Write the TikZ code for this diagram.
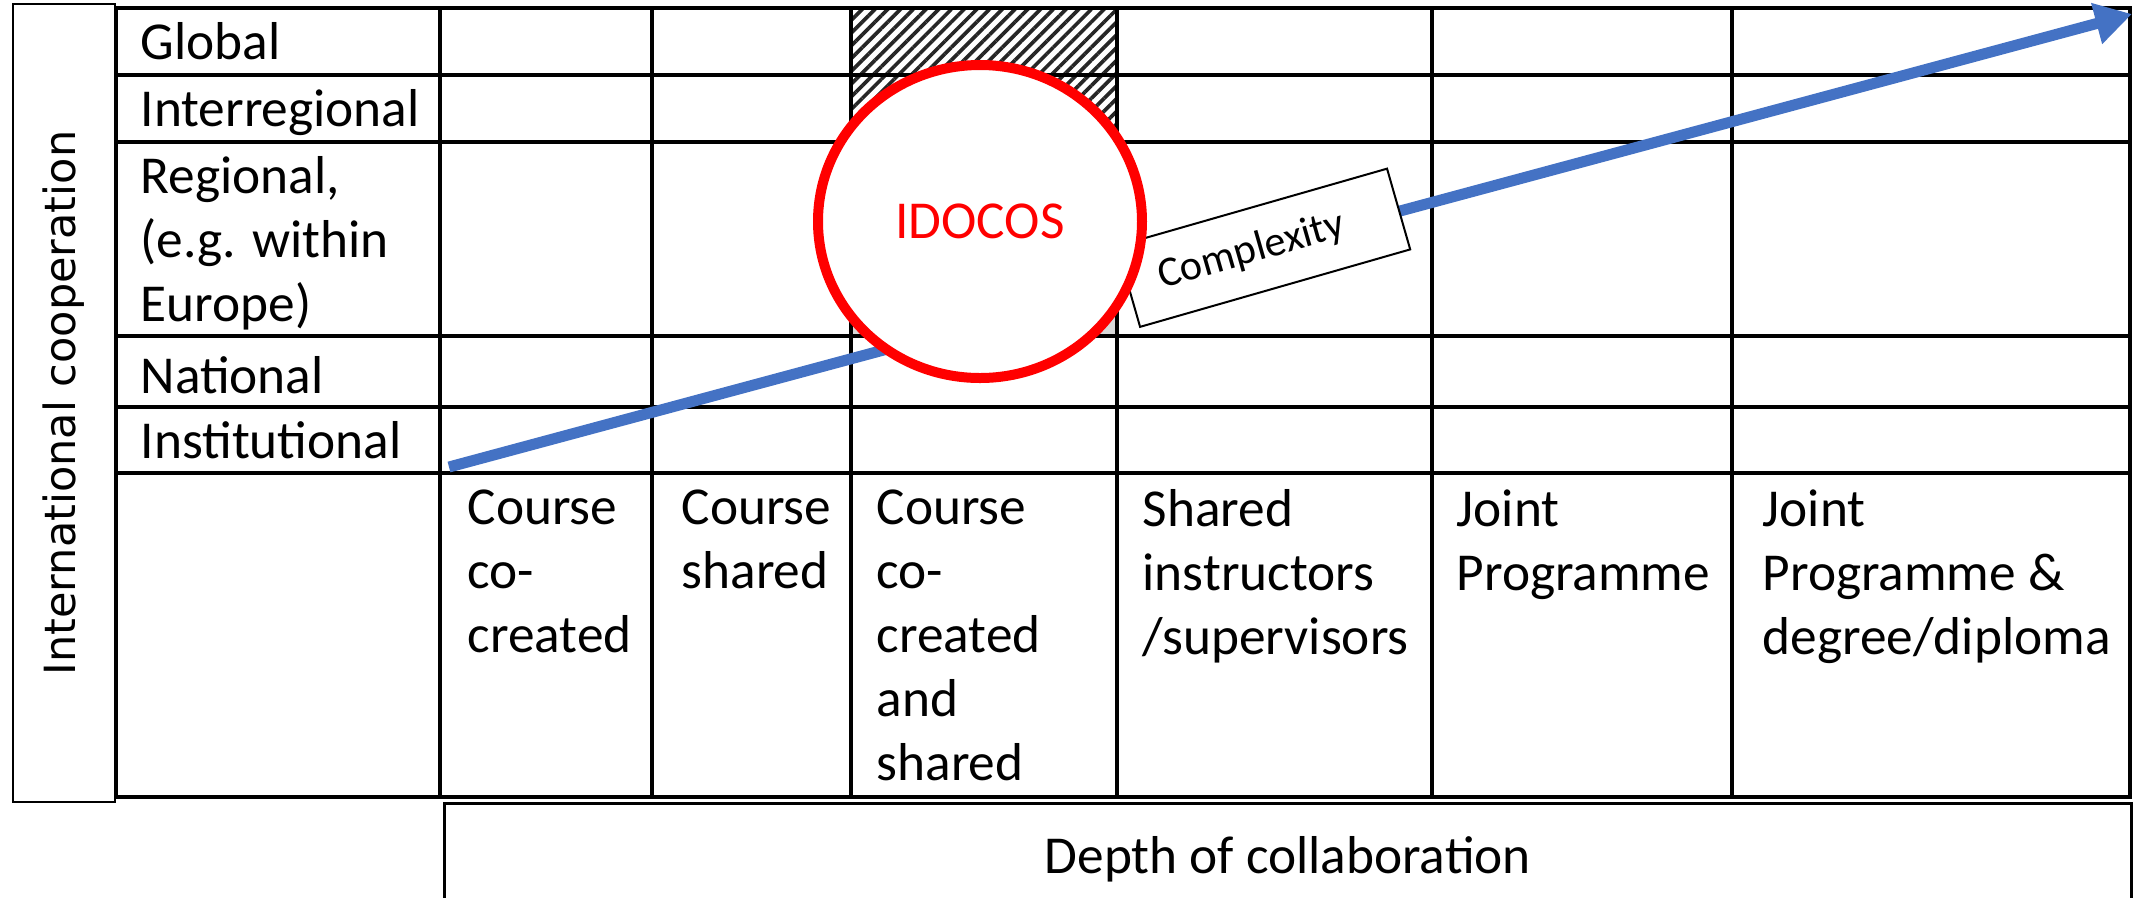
\documentclass[tikz,border=0pt]{standalone}
\usepackage{fontspec}
\setmainfont{Carlito}
\newfontfamily\sidefont{DejaVu Sans}
\usepackage{xcolor}
\usetikzlibrary{arrows.meta,patterns.meta,shapes.geometric}

\definecolor{arrowblue}{RGB}{68,114,196}
\definecolor{cellgrey}{RGB}{217,217,217}

\begin{document}
\begin{tikzpicture}[
    x=0.3pt, y=-0.3pt, >={Triangle[length=11pt,width=12pt]},
    every node/.style={font=\fontsize{16}{19.2}\selectfont},
    grid/.style={line width=1.4pt, line cap=rect},
    rowlab/.style={align=left, inner sep=0pt},
    collab/.style={anchor=north west, align=left, inner sep=0pt},
    axisbox/.style={draw, line width=0.8pt, inner sep=0pt},
    cplxarrow/.style={->, draw=arrowblue, line width=3.3pt},
    cplxbox/.style={draw=black, text=black, line width=0.6pt, fill=white,
        minimum width=84.3pt, minimum height=25.2pt, text width=65.3pt,
        align=left, inner xsep=9.5pt, font=\fontsize{12.7}{15}\selectfont}
]
\useasboundingbox (0,0) rectangle (2133,897);

\fill[cellgrey] (851,142) rectangle (1117,336);
\path[pattern={Lines[angle=45,distance=2.7pt,line width=1.1pt]}, pattern color=black!85]
    (851,8) rectangle (1117,142);

\draw[grid] (116,8) -- (2130,8) (116,75) -- (2130,75) (116,142) -- (2130,142)
    (116,336) -- (2130,336) (116,407) -- (2130,407) (116,473) -- (2130,473)
    (116,797) -- (2130,797)
    (116,8) -- (116,797) (440,8) -- (440,797) (652,8) -- (652,797)
    (851,8) -- (851,797) (1117,8) -- (1117,797) (1432,8) -- (1432,797)
    (1732,8) -- (1732,797) (2130,8) -- (2130,797);

\node[axisbox, rotate=90, minimum width=239.4pt, minimum height=30.6pt,
    font=\sidefont\fontsize{12.9}{15}\selectfont] (intl) at (64,403) {International cooperation};
\node[axisbox, anchor=north west, minimum width=506.1pt, minimum height=33.6pt]
    (depth) at (443,802) {Depth of collaboration};

\node[rowlab, anchor=base west] (glob) at (140,59) {Global};
\node[rowlab, anchor=base west] (inter) at (140,126) {Interregional};
\node[rowlab, anchor=west] (regio) at (140,243) {Regional,\\(e.g. within\\Europe)};
\node[rowlab, anchor=base west] (natio) at (140,393) {National};
\node[rowlab, anchor=base west] (insti) at (140,458) {Institutional};

\node[collab] (c1) at (467,489) {Course\\co-\\created};
\node[collab] (c2) at (681,489) {Course\\shared};
\node[collab] (c3) at (876,489) {Course\\co-\\created\\and\\shared};
\node[collab] (c4) at (1142,489) {Shared\\instructors\\/supervisors};
\node[collab] (c5) at (1456,489) {Joint\\Programme};
\node[collab] (c6) at (1762,489) {Joint\\Programme \&\\degree/diploma};

\coordinate (arrs) at (449,467);
\coordinate (arre) at (2132,14);
\draw[cplxarrow] (arrs) -- node[cplxbox, rotate=16, pos=0.484] (cplx) {Complexity} (arre);

\node[ellipse, draw=red, line width=3pt, fill=white, text=red, minimum width=97.2pt,
    minimum height=93.9pt, inner sep=0pt] (idocos) at (980,221.5) {IDOCOS};
\end{tikzpicture}
\end{document}
